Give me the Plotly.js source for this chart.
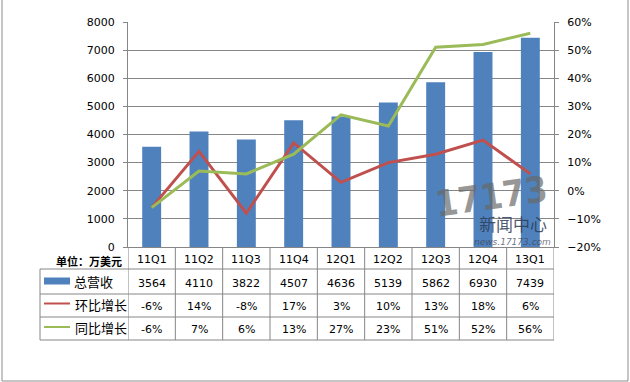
<!DOCTYPE html>
<html><head><meta charset="utf-8">
<script src="https://cdn.plot.ly/plotly-3.0.1.min.js"></script>
<style>html,body{margin:0;padding:0;background:#fff;}#chart{width:630px;height:382px;}</style>
</head><body><div id="chart"></div>
<script>
const categories = ['11Q1','11Q2','11Q3','11Q4','12Q1','12Q2','12Q3','12Q4','13Q1'];
const revenue = [3564,4110,3822,4507,4636,5139,5862,6930,7439];
const qoq = [-0.06,0.14,-0.08,0.17,0.03,0.10,0.13,0.18,0.06];
const yoy = [-0.06,0.07,0.06,0.13,0.27,0.23,0.51,0.52,0.56];
const seriesNames = ['总营收','环比增长','同比增长'];
const unitLabel = '单位：万美元';

const L = 128, R = 554, T = 22, B = 247;
const W = 630, H = 382;
const px = x => (x - L) / (R - L);
const py = y => (B - y) / (B - T);

const numFont = {family: 'DejaVu Sans, Verdana, sans-serif', size: 11, color: '#000'};
const cjkFont = {family: 'Noto Sans CJK SC, sans-serif', size: 13, color: '#000'};

const traces = [
  {type:'bar', x:categories, y:revenue, name:seriesNames[0], marker:{color:'#4F81BD'}, yaxis:'y'},
  {type:'scatter', mode:'lines', x:categories, y:qoq, name:seriesNames[1], line:{color:'#C0504D', width:3}, yaxis:'y2'},
  {type:'scatter', mode:'lines', x:categories, y:yoy, name:seriesNames[2], line:{color:'#9BBB59', width:3}, yaxis:'y2'}
];

const shapes = [];
const annotations = [];
const grid = '#868686';
for (let i = 0; i <= categories.length; i++) {
  shapes.push({type:'line', xref:'x', yref:'paper', x0:i-0.5, x1:i-0.5, y0:py(B), y1:py(340), line:{color:grid, width:1}});
}
shapes.push({type:'line', xref:'paper', yref:'paper', x0:px(40), x1:px(40), y0:py(269), y1:py(340), line:{color:grid, width:1}});
[269, 294, 317, 340].forEach(y => {
  shapes.push({type:'line', xref:'paper', yref:'paper', x0:px(40), x1:px(R), y0:py(y), y1:py(y), line:{color:grid, width:1}});
});
shapes.push({type:'rect', xref:'paper', yref:'paper', x0:px(2), x1:px(628), y0:py(381), y1:py(-20), line:{color:'#8c8c8c', width:1}});
shapes.push({type:'rect', xref:'paper', yref:'paper', x0:px(44), x1:px(70), y0:py(284.5), y1:py(277.5), fillcolor:'#4F81BD', line:{width:0}});
shapes.push({type:'line', xref:'paper', yref:'paper', x0:px(44), x1:px(70), y0:py(303.5), y1:py(303.5), line:{color:'#C0504D', width:2}});
shapes.push({type:'line', xref:'paper', yref:'paper', x0:px(44), x1:px(70), y0:py(327), y1:py(327), line:{color:'#9BBB59', width:2}});

annotations.push({xref:'paper', yref:'paper', x:px(124), y:py(260.5), xanchor:'right', yanchor:'middle', showarrow:false,
  text:'<b>'+unitLabel+'</b>', font:{family:'Noto Sans CJK SC, sans-serif', size:11, color:'#000'}});
[[281.5, 0], [304, 1], [327, 2]].forEach(([y, k]) => {
  annotations.push({xref:'paper', yref:'paper', x:px(k===0?72:73), y:py(y), xanchor:'left', yanchor:'middle', showarrow:false,
    text:seriesNames[k], font:cjkFont});
});
const pct = v => Math.round(v*100) + '%';
categories.forEach((c, i) => {
  annotations.push({xref:'x', yref:'paper', x:i, y:py(259), xanchor:'center', showarrow:false, yanchor:'middle', text:c, font:numFont});
  annotations.push({xref:'x', yref:'paper', x:i, y:py(283), xanchor:'center', showarrow:false, yanchor:'middle', text:String(revenue[i]), font:numFont});
  annotations.push({xref:'x', yref:'paper', x:i, y:py(306), xanchor:'center', showarrow:false, yanchor:'middle', text:pct(qoq[i]), font:numFont});
  annotations.push({xref:'x', yref:'paper', x:i, y:py(329), xanchor:'center', showarrow:false, yanchor:'middle', text:pct(yoy[i]), font:numFont});
});
// watermark
annotations.push({xref:'paper', yref:'paper', x:px(491), y:py(196), xanchor:'center', yanchor:'middle', showarrow:false, textangle:-8,
  text:'<b>17173</b>', font:{family:'DejaVu Sans Condensed, DejaVu Sans, sans-serif', size:36, color:'rgba(105,105,105,0.7)'}});
annotations.push({xref:'paper', yref:'paper', x:px(513), y:py(223), xanchor:'center', yanchor:'middle', showarrow:false,
  text:'新闻中心', font:{family:'Noto Sans CJK SC, sans-serif', size:17, color:'rgba(45,60,85,0.85)'}});
annotations.push({xref:'paper', yref:'paper', x:px(512), y:py(241.5), xanchor:'center', yanchor:'middle', showarrow:false,
  text:'<i>news.17173.com</i>', font:{family:'DejaVu Sans, sans-serif', size:9, color:'rgba(60,70,90,0.75)'}});

const layout = {
  width: W, height: H,
  margin: {l:L, r:W-R, t:T, b:H-B, pad:0},
  paper_bgcolor:'#fff', plot_bgcolor:'#fff',
  showlegend:false,
  bargap:0.6,
  xaxis:{type:'category', showticklabels:false, showgrid:false, zeroline:false, showline:true, linecolor:grid, linewidth:1, ticks:'', range:[-0.5, 8.5], fixedrange:true},
  yaxis:{range:[0,8000], dtick:1000, showgrid:true, gridcolor:grid, gridwidth:1, zeroline:false, showline:true, linecolor:grid, linewidth:1,
    ticks:'outside', ticklen:4, tickcolor:grid, tickfont:numFont, ticklabelstandoff:6},
  yaxis2:{overlaying:'y', side:'right', range:[-0.2,0.6], dtick:0.1, tickformat:'.0%', showgrid:false, zeroline:false,
    showline:true, linecolor:grid, linewidth:1, ticks:'outside', ticklen:4, tickcolor:grid, tickfont:numFont, ticklabelstandoff:6},
  shapes: shapes,
  annotations: annotations
};
Plotly.newPlot('chart', traces, layout, {displayModeBar:false, staticPlot:true});
</script></body></html>
